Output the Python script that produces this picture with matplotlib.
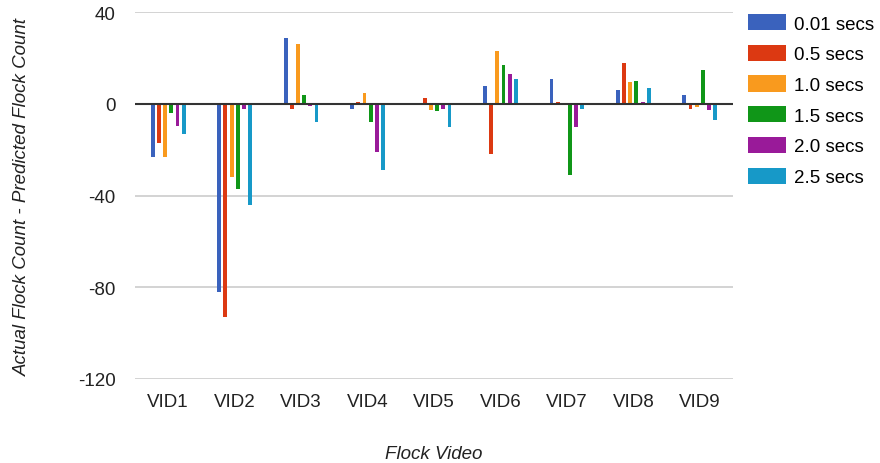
import numpy as np
import matplotlib
matplotlib.use("Agg")
import matplotlib.pyplot as plt

plt.rcParams['font.family'] = ['Liberation Sans', 'DejaVu Sans']

videos = ["VID1", "VID2", "VID3", "VID4", "VID5", "VID6", "VID7", "VID8", "VID9"]
series_names = ["0.01 secs", "0.5 secs", "1.0 secs", "1.5 secs", "2.0 secs", "2.5 secs"]

s001 = [-23, -82, 29, -2, 0, 8, 11, 6, 4]
s05 = [-17, -93, -2, 1, 2.5, -22, 1, 18, -2]
s10 = [-23, -32, 26, 5, -2.5, 23, 0, 9.5, -1.5]
s15 = [-4, -37, 4, -8, -3, 17, -31, 10, 15]
s20 = [-9.5, -2, -1, -21, -2, 13, -10, 1, -2.5]
s25 = [-13, -44, -8, -29, -10, 11, -2, 7, -7]
series = [s001, s05, s10, s15, s20, s25]

colors = ["#3a62bd", "#dc3912", "#f99a1e", "#109618", "#991a99", "#1799c8"]
FS = 13.5

fig = plt.figure(figsize=(8.8, 4.64), dpi=100)
ax = fig.add_axes([135/880, 1-380/464, 598/880, (380-13.3)/464])

x = np.arange(len(videos))
slot = 0.093
bw = 0.058
for i, (vals, c, name) in enumerate(zip(series, colors, series_names)):
    ax.bar(x + (i - 2.5) * slot, vals, width=bw, color=c, label=name, zorder=3)

ax.set_xlim(-0.5, len(videos) - 0.5)
ax.set_ylim(-120, 40)
ax.set_yticks([40, 0, -40, -80, -120])
ax.set_yticklabels(["40", "0", "-40", "-80", "-120"])
ax.set_xticks(x)
ax.set_xticklabels(videos)
ax.grid(axis='y', color='#cccccc', linewidth=1.2, zorder=0)
ax.axhline(0, color='#333333', linewidth=1.5, zorder=4)
for sp in ax.spines.values():
    sp.set_visible(False)
ax.tick_params(axis='both', length=0, labelsize=FS, colors='#222222')
ax.tick_params(axis='x', pad=10)
ax.tick_params(axis='y', pad=14)

ax.set_xlabel("Flock Video", fontsize=FS, style='italic', labelpad=25, color='#222222')
ax.set_ylabel("Actual Flock Count - Predicted Flock Count", fontsize=FS, style='italic',
              labelpad=34, color='#222222')

fig.legend(loc='upper left', bbox_to_anchor=(748/880, 1-15/464), frameon=False,
           fontsize=FS, handlelength=2.05, handleheight=0.95, labelspacing=0.65,
           handletextpad=0.42, borderpad=0, borderaxespad=0)

fig.savefig("out.png", dpi=100)
